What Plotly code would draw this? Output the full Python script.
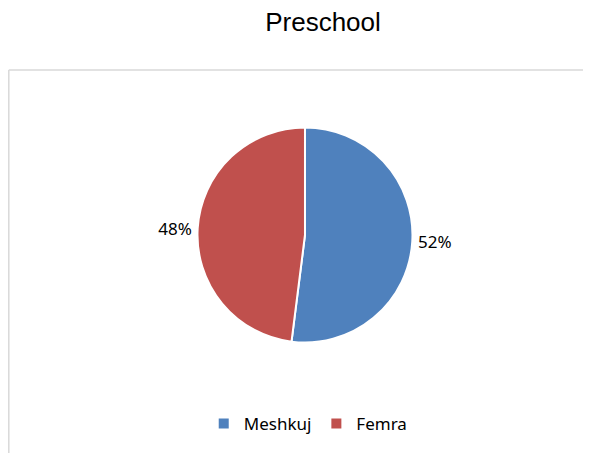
import plotly.graph_objects as go

categories = ["Meshkuj", "Femra"]
values = [52, 48]
colors = ["#4F81BD", "#C0504D"]
title_text = "Preschool"

W, H = 591, 453

fig = go.Figure(go.Pie(
    labels=categories,
    values=values,
    sort=False,
    direction="clockwise",
    rotation=0,
    marker=dict(colors=colors, line=dict(color="white", width=2)),
    textinfo="percent",
    textposition="outside",
    texttemplate="%{percent:.0%}",
    textfont=dict(family="Liberation Sans Narrow, Noto Sans", size=17, color="#000000"),
    domain=dict(x=[0.232, 0.773], y=[0.2616, 0.7362]),
    hoverinfo="label+percent",
))

fig.update_layout(
    width=W, height=H,
    margin=dict(l=0, r=0, t=0, b=0),
    paper_bgcolor="white",
    plot_bgcolor="white",
    title=dict(text=title_text, x=0.533, xanchor="center", y=1 - 14 / H, yanchor="middle",
               font=dict(family="Liberation Sans, Arial", size=26, color="#000000")),
    legend=dict(orientation="h", x=0.508, xanchor="center", y=37 / H, yanchor="middle",
                font=dict(family="Liberation Sans Narrow, Noto Sans", size=17, color="#000000"),
                traceorder="normal"),
    shapes=[
        dict(type="line", xref="paper", yref="paper", x0=0.8 / W, x1=1, y0=1 - 62 / H, y1=1 - 62 / H,
             line=dict(color="#D9D9D9", width=1.5)),
        dict(type="line", xref="paper", yref="paper", x0=0.8 / W, x1=0.8 / W, y0=0, y1=1 - 62 / H,
             line=dict(color="#D9D9D9", width=1.5)),
    ],
)

fig.write_html("out.html")
